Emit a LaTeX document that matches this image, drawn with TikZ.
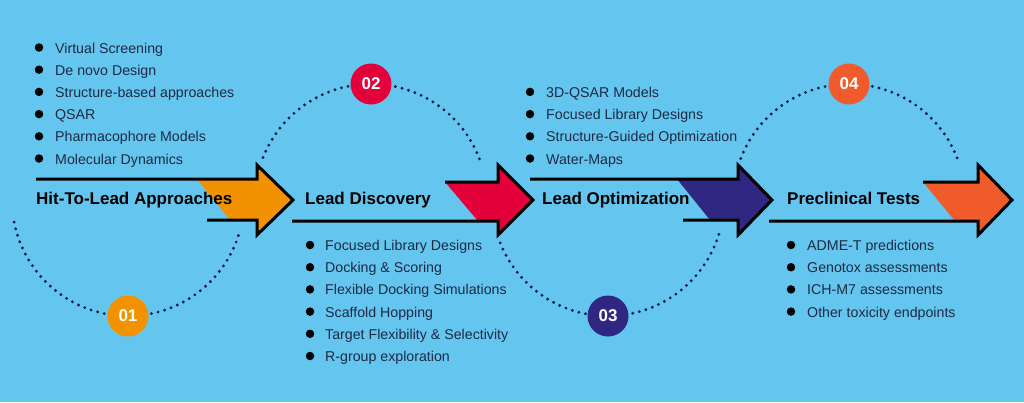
\documentclass[tikz,border=0pt]{standalone}
\usepackage{fontspec}
\setmainfont{Liberation Sans}
\definecolor{bg}{HTML}{64C5EF}
\definecolor{cone}{HTML}{F39200}
\definecolor{ctwo}{HTML}{E4003A}
\definecolor{cthree}{HTML}{2F2781}
\definecolor{cfour}{HTML}{F15A2B}
\definecolor{dotc}{HTML}{0F1F40}
\definecolor{txt}{HTML}{1C2A44}
\begin{document}
\begin{tikzpicture}[x=1pt,y=-1pt,
  dots/.style={draw=dotc, line width=3.2pt, line cap=round, dash pattern=on 0pt off 6.8pt},
  badge/.style={circle, minimum size=41pt, inner sep=0pt, text=white, font=\bfseries\fontsize{17}{17}\selectfont},
  title/.style={anchor=base west, inner sep=0pt, text=black, font=\bfseries\fontsize{17}{17}\selectfont},
  item/.style={anchor=base west, inner sep=0pt, text=txt, font=\fontsize{14.2}{14.2}\selectfont},
  bul/.style={circle, fill=black, minimum size=8.5pt, inner sep=0pt},
  outl/.style={draw=black, line width=3pt, line join=miter}]
\fill[bg] (0,0) rectangle (1024,402);
\useasboundingbox (0,0) rectangle (1024,402);

% circle centres
\coordinate (c1) at (128,200);
\coordinate (c2) at (371,200);
\coordinate (c3) at (608,200);
\coordinate (c4) at (849,200);

% dotted arcs
\draw[dots] (c1) ++(169:116) arc[start angle=169, end angle=16, radius=116];
\draw[dots] (c2) ++(201.5:116) arc[start angle=201.5, end angle=341.3, radius=116];
\draw[dots] (c3) ++(158.3:116) arc[start angle=158.3, end angle=16, radius=116];
\draw[dots] (c4) ++(201:116) arc[start angle=201, end angle=341.6, radius=116];

% badges
\node[badge, fill=cone] (b1) at (128,316) {01};
\node[badge, fill=ctwo] (b2) at (371,84) {02};
\node[badge, fill=cthree] (b3) at (608,316) {03};
\node[badge, fill=cfour] (b4) at (849,84) {04};

% arrow fills
\fill[cone] (197,179) -- (257,179) -- (257,165) -- (293,200) -- (257,235) -- (257,220) -- (230,220) -- cycle;
\fill[ctwo] (445,182) -- (498,182) -- (498,165) -- (533,200) -- (498,235) -- (498,221) -- (478,221) -- cycle;
\fill[cthree] (677,179) -- (738,179) -- (738,165) -- (772,200) -- (738,235) -- (738,220) -- (710,220) -- cycle;
\fill[cfour] (923,182) -- (978,182) -- (978,165) -- (1012,200) -- (978,235) -- (978,221) -- (955,221) -- cycle;

% titles
\node[title] (t1) at (36,204.5) {Hit-To-Lead Approaches};
\node[title] (t2) at (305,204.5) {Lead Discovery};
\node[title] (t3) at (542,204.5) {Lead Optimization};
\node[title] (t4) at (787,204.5) {Preclinical Tests};

% arrow outlines
\draw[outl] (36,179) -- (257,179) -- (257,165) -- (293,200) -- (257,235) -- (257,220) -- (207,220);
\draw[outl] (445,182) -- (498,182) -- (498,165) -- (533,200) -- (498,235) -- (498,221) -- (292,221);
\draw[outl] (530,179) -- (738,179) -- (738,165) -- (772,200) -- (738,235) -- (738,220) -- (683,220);
\draw[outl] (923,182) -- (978,182) -- (978,165) -- (1012,200) -- (978,235) -- (978,221) -- (769,221);

% list 1
\foreach \t [count=\i] in {Virtual Screening, De novo Design, Structure-based approaches, QSAR, Pharmacophore Models, Molecular Dynamics}{
  \node[bul] (la\i) at (39,{47.5+22.2*(\i-1)}) {};
  \node[item] (ta\i) at (55,{53+22.2*(\i-1)}) {\t};
}
% list 2
\foreach \t [count=\i] in {Focused Library Designs, Docking \& Scoring, Flexible Docking Simulations, Scaffold Hopping, Target Flexibility \& Selectivity, R-group exploration}{
  \node[bul] (lb\i) at (310,{245+22.2*(\i-1)}) {};
  \node[item] (tb\i) at (325,{250.5+22.2*(\i-1)}) {\t};
}
% list 3
\foreach \t [count=\i] in {3D-QSAR Models, Focused Library Designs, Structure-Guided Optimization, Water-Maps}{
  \node[bul] (lc\i) at (530,{91.9+22.2*(\i-1)}) {};
  \node[item] (tc\i) at (546,{97.4+22.2*(\i-1)}) {\t};
}
% list 4
\foreach \t [count=\i] in {ADME-T predictions, Genotox assessments, ICH-M7 assessments, Other toxicity endpoints}{
  \node[bul] (ld\i) at (791,{245+22.2*(\i-1)}) {};
  \node[item] (td\i) at (807,{250.5+22.2*(\i-1)}) {\t};
}
\end{tikzpicture}
\end{document}
